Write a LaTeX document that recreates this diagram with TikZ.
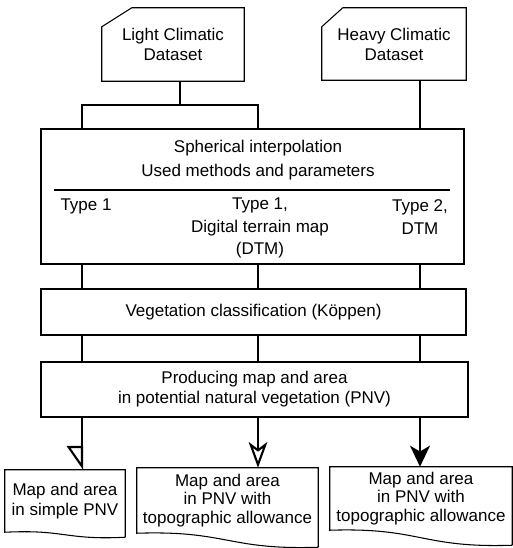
\documentclass[tikz,border=0pt]{standalone}
\usepackage{fontspec}
\setmainfont{Liberation Sans}
\usetikzlibrary{calc,arrows.meta}

\begin{document}
\begin{tikzpicture}[x=0.03cm,y=-0.03cm,
  every node/.style={font=\fontsize{14.5pt}{17pt}\selectfont, align=center, inner sep=0pt},
  box/.style={draw, line width=0.9pt},
  link/.style={line width=1.8pt}]
\useasboundingbox (0,0) rectangle (513,548);
      \node[minimum width=4.26cm, minimum height=2.19cm] (light) at (173,44.5) {Light Climatic\\Dataset};
      \node[minimum width=4.32cm, minimum height=2.16cm] (heavy) at (394,44) {Heavy Climatic\\Dataset};
      \foreach \n/\c in {light/30, heavy/21}
\draw[box] (\n.south west) -- ($(\n.north west)+(0,19)$) -- ($(\n.north west)+(\c,0)$) -- (\n.north east) -- (\n.south east) -- cycle;
      \node[box, minimum width=12.69cm, minimum height=4.05cm] (interp) at (252.5,196.5) {};
      \node[font=\fontsize{14.5pt}{20.4pt}\selectfont] (title) at (258,160) {Spherical interpolation\\Used methods and parameters};
      \draw[line width=0.9pt] (54,190) -- (450,190);
      \node (typea) at (86,206) {Type 1};
      \node[font=\fontsize{14.5pt}{19pt}\selectfont] (typeb) at (260,228) {Type 1,\\Digital terrain map\\(DTM)};
      \node[font=\fontsize{14.5pt}{19pt}\selectfont] (typec) at (420,217) {Type 2,\\DTM};
      \node[box, minimum width=12.75cm, minimum height=1.38cm] (veg) at (253.5,312) {Vegetation classification (Köppen)};
      \node[box, minimum width=12.81cm, minimum height=1.65cm] (pnv) at (254.5,389.5) {Producing map and area\\in potential natural vegetation (PNV)};
      \node[minimum width=3.6cm, minimum height=1.86cm] (out1) at (65,501) {Map and area\\in simple PNV};
      \node[font=\fontsize{14.5pt}{16pt}\selectfont, minimum width=5.43cm, minimum height=1.95cm] (out2) at (227.5,500.5) {Map and area\\in PNV with\\topographic allowance};
      \node[font=\fontsize{14.5pt}{16pt}\selectfont, minimum width=5.46cm, minimum height=1.89cm] (out3) at (421,498.5) {Map and area\\in PNV with\\topographic allowance};
      \foreach \n/\d in {out1/5, out2/14, out3/15}
\draw[box] ($(\n.south east)+(0,\d)$) -- (\n.north east) -- (\n.north west) -- (\n.south west) .. controls ($(\n.south)+(0,-3)$) and ($(\n.south)+(0,\d+3)$) .. ($(\n.south east)+(0,\d)$);
\coordinate (colA) at (82,0);
\coordinate (colB) at (258,0);
\coordinate (colC) at (420,0);
\coordinate (lj) at (180,105);
      \draw[link] (light.south -| lj) -- (lj);
      \draw[link] (interp.north -| colA) |- (lj) -| (interp.north -| colB);
      \draw[link] (heavy.south -| colC) -- (interp.north -| colC);
      \foreach \c in {colA,colB,colC} {
\draw[link] (interp.south -| \c) -- (veg.north -| \c);
\draw[link] (veg.south -| \c) -- (pnv.north -| \c);
      }
      \draw[link, -{Triangle[open,right,length=19pt,width=26pt]}] (pnv.south -| colA) -- (out1.north -| colA);
      \draw[link, -{Stealth[open,length=22pt,width=16pt,inset=6pt]}] (pnv.south -| colB) -- (out2.north -| colB);
      \draw[link, -{Stealth[length=18pt,width=17pt,inset=5pt]}] (pnv.south -| colC) -- (out3.north -| colC);
    \end{tikzpicture}
\end{document}
